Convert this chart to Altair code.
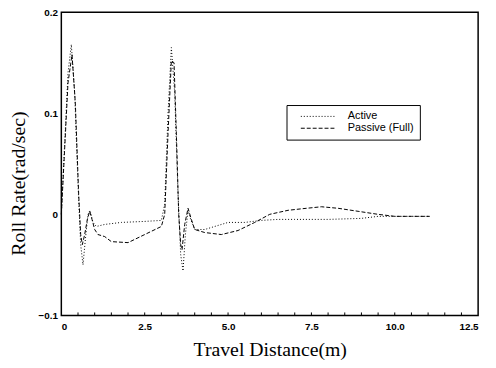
import altair as alt
import pandas as pd

# Active (dotted)
active_x = [0, 0.1, 0.2, 0.3, 0.4, 0.5, 0.58, 0.65, 0.72, 0.8, 0.86, 0.95, 1.05, 1.3, 1.8,
            2.5, 3.0, 3.1, 3.2, 3.3, 3.4, 3.5, 3.58, 3.65, 3.72, 3.8, 3.88, 4.0, 4.3, 4.6,
            5.0, 5.5, 6.0, 6.5, 7.0, 8.0, 9.0, 9.5, 10.0, 11.05]
active_y = [0, 0.07, 0.14, 0.168, 0.12, 0.03, -0.03, -0.05, -0.025, 0.0, 0.004, -0.008, -0.012,
            -0.01, -0.008, -0.007, -0.006, 0.01, 0.1, 0.165, 0.12, 0.02, -0.04, -0.056, -0.02,
            0.004, -0.005, -0.015, -0.015, -0.012, -0.008, -0.008, -0.006, -0.005, -0.005,
            -0.005, -0.004, -0.002, -0.002, -0.002]

# Passive (Full) (dashed)
passive_x = [0, 0.1, 0.2, 0.32, 0.42, 0.52, 0.58, 0.63, 0.7, 0.78, 0.85, 0.92, 1.0, 1.1, 1.3,
             1.5, 2.0, 2.5, 3.0, 3.1, 3.2, 3.3, 3.38, 3.45, 3.52, 3.58, 3.62, 3.7, 3.8, 3.9,
             4.0, 4.3, 4.8, 5.3, 5.8, 6.25, 6.8, 7.24, 7.8, 8.3, 8.9, 9.5, 10.0, 10.5, 11.05]
passive_y = [0, 0.065, 0.13, 0.158, 0.11, 0.02, -0.02, -0.03, -0.02, -0.005, 0.003, -0.005,
             -0.015, -0.02, -0.022, -0.027, -0.028, -0.02, -0.012, 0.0, 0.08, 0.152, 0.15,
             0.08, 0.0, -0.03, -0.035, -0.01, 0.006, -0.005, -0.015, -0.018, -0.02, -0.016,
             -0.008, 0.0, 0.004, 0.0056, 0.0075, 0.006, 0.003, 0.0, -0.002, -0.002, -0.002]

series_names = ["Active", "Passive (Full)"]
x_ticks = [0, 2.5, 5.0, 7.5, 10.0, 12.5]
y_ticks = [-0.1, 0, 0.1, 0.2]
minor_ticks = [i * 0.5 for i in range(1, 25)]

rows = []
for i, (x, y) in enumerate(zip(active_x, active_y)):
    rows.append({"x": x, "y": y, "series": series_names[0], "order": i})
for i, (x, y) in enumerate(zip(passive_x, passive_y)):
    rows.append({"x": x, "y": y, "series": series_names[1], "order": i})
df = pd.DataFrame(rows)

W, H = 422, 307

xscale = alt.Scale(domain=[0, 12.5], nice=False, zero=False)
yscale = alt.Scale(domain=[-0.1, 0.2], nice=False, zero=False)

lines = alt.Chart(df).mark_line(color="black", strokeWidth=1).encode(
    x=alt.X("x:Q", scale=xscale,
            axis=alt.Axis(title="Travel Distance(m)", values=x_ticks,
                          labelExpr="datum.value == 0 ? '0' : format(datum.value, '.1f')",
                          grid=False, ticks=False, domain=False, labelPadding=6,
                          titlePadding=9, titleFontSize=20)),
    y=alt.Y("y:Q", scale=yscale,
            axis=alt.Axis(title="Roll Rate(rad/sec)", values=y_ticks,
                          labelExpr="datum.value == 0 ? '0' : format(datum.value, '.1f')",
                          grid=False, ticks=False, domain=False, labelPadding=4,
                          titleX=-33, titleY=173, titleFontSize=20)),
    strokeDash=alt.StrokeDash(
        "series:N",
        scale=alt.Scale(domain=series_names, range=[[1, 2], [4, 2]]),
        legend=alt.Legend(title=None, orient="none", legendX=228, legendY=94,
                          symbolType="M-6,0H6", symbolSize=36, symbolStrokeWidth=1,
                          symbolStrokeColor="black", labelOffset=24, symbolOffset=21,
                          padding=6, rowPadding=0, strokeColor="black",
                          fillColor="white", labelFont="Liberation Sans",
                          labelFontSize=11, labelColor="black"),
    ),
    order="order:Q",
)

ticks_df = pd.DataFrame({"t": minor_ticks})
minor = alt.Chart(ticks_df).mark_rule(color="black", strokeWidth=1).encode(
    x=alt.X("t:Q", scale=xscale),
    y=alt.value(H),
    y2=alt.value(H - 3),
)

chart = alt.layer(minor, lines).properties(
    width=W, height=H,
    autosize=alt.AutoSizeParams(type="none"),
    padding={"left": 54, "top": 2, "right": 10, "bottom": 51},
).configure_view(
    stroke="black", strokeWidth=1.5
).configure_axis(
    labelFont="Liberation Sans", labelFontSize=10, labelFontWeight="bold",
    labelColor="black", titleFont="Liberation Serif",
    titleFontWeight="normal", titleColor="black"
)

chart.save("out.html", embed_options={"renderer": "svg", "actions": False})
